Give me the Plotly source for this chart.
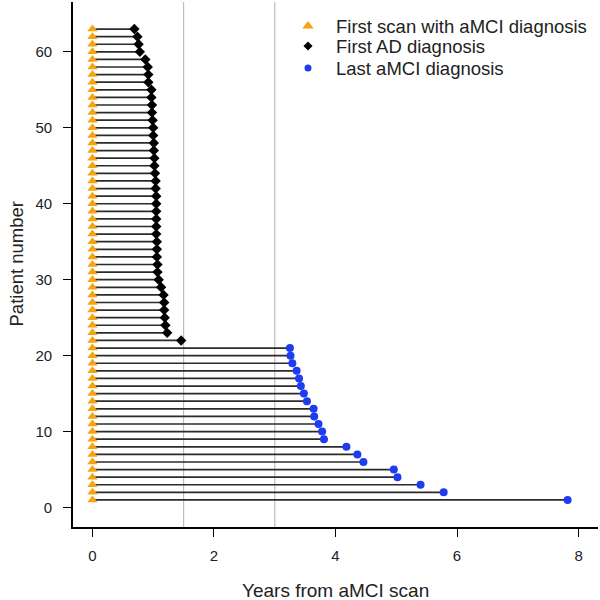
import plotly.graph_objects as go

# ---------------- data ----------------
patients = list(range(1, 64))                      # patient numbers 1..63
scan_years = [0.0] * 63                            # first scan with aMCI diagnosis (all at 0)

# patients 1..21: last aMCI diagnosis (years)
mci_patients = list(range(1, 22))
last_mci = [7.82, 5.78, 5.40, 5.02, 4.96, 4.46, 4.36, 4.18, 3.81, 3.78, 3.72,
            3.65, 3.64, 3.53, 3.48, 3.43, 3.40, 3.36, 3.29, 3.26, 3.25]

# patients 22..63: first AD diagnosis (years)
ad_patients = list(range(22, 64))
first_ad = [1.46, 1.23, 1.20, 1.19, 1.18, 1.18, 1.17, 1.13, 1.09, 1.07, 1.07,
            1.06, 1.06, 1.06, 1.05, 1.05, 1.05, 1.05, 1.05, 1.05, 1.04, 1.04,
            1.03, 1.02, 1.02, 1.01, 1.01, 1.00, 1.00, 0.99, 0.98, 0.98, 0.97,
            0.97, 0.92, 0.92, 0.91, 0.87, 0.78, 0.76, 0.74, 0.69]

series_names = ["First scan with aMCI diagnosis", "First AD diagnosis", "Last aMCI diagnosis"]
ref_lines = [1.5, 3.0]
x_ticks = [0, 2, 4, 6, 8]
y_ticks = [0, 10, 20, 30, 40, 50, 60]

FONT = "Liberation Sans, Arial, Helvetica, sans-serif"
TXT = "#222222"
ORANGE = "#F5A312"
BLUE = "#1E3CF0"

# plot area in pixels (margins)
L, R, T, B = 73, 2, 2, 73
W = H = 600

# ---------------- segments ----------------
end_by_patient = {}
for p, v in zip(mci_patients, last_mci):
    end_by_patient[p] = v
for p, v in zip(ad_patients, first_ad):
    end_by_patient[p] = v

seg_x, seg_y = [], []
for p, s in zip(patients, scan_years):
    seg_x += [s, end_by_patient[p], None]
    seg_y += [p, p, None]

fig = go.Figure()

for rx in ref_lines:
    fig.add_shape(type="line", x0=rx, x1=rx, xref="x", y0=0, y1=1, yref="paper",
                  line=dict(color="#bdbdbd", width=1.2), layer="below")

fig.add_trace(go.Scatter(x=seg_x, y=seg_y, mode="lines",
                         line=dict(color="#2b2b2b", width=1.7),
                         showlegend=False, hoverinfo="skip"))

fig.add_trace(go.Scatter(x=scan_years, y=patients, mode="markers", name=series_names[0],
                         showlegend=False,
                         marker=dict(symbol="triangle-up", size=9, color=ORANGE)))
fig.add_trace(go.Scatter(x=first_ad, y=ad_patients, mode="markers", name=series_names[1],
                         showlegend=False,
                         marker=dict(symbol="diamond", size=8, color="#000000")))
fig.add_trace(go.Scatter(x=last_mci, y=mci_patients, mode="markers", name=series_names[2],
                         showlegend=False,
                         marker=dict(symbol="circle", size=8, color=BLUE)))

# ---------------- legend (key drawn in a pixel-space overlay axis) ----------------
leg_sym_x = 308
leg_txt_x = 334
leg_rows = [26, 46, 68]
leg_symbols = ["triangle-up", "diamond", "circle"]
leg_sizes = [10, 7, 7]
leg_colors = [ORANGE, "#000000", BLUE]
for sym, sz, col, ry in zip(leg_symbols, leg_sizes, leg_colors, leg_rows):
    fig.add_trace(go.Scatter(x=[leg_sym_x], y=[ry], mode="markers",
                             xaxis="x2", yaxis="y2", showlegend=False, hoverinfo="skip",
                             marker=dict(symbol=sym, size=sz, color=col,
                                         line=dict(width=0))))
for name, ry in zip(series_names, leg_rows):
    fig.add_annotation(text=name, xref="x2", yref="y2", x=leg_txt_x, y=ry,
                       xanchor="left", yanchor="middle", showarrow=False,
                       font=dict(family=FONT, size=18.5, color=TXT))

axis_common = dict(showgrid=False, zeroline=False, showline=True, linecolor="#000000",
                   linewidth=1.6, ticks="outside", ticklen=8, tickwidth=1.4,
                   tickcolor="#000000", tickfont=dict(family=FONT, size=15, color=TXT))

fig.update_xaxes(range=[-0.32, 8.32], tickvals=x_ticks, ticktext=[str(t) for t in x_ticks],
                 ticklabelstandoff=6, **axis_common)
fig.update_yaxes(range=[-2.56, 66.56], tickvals=y_ticks, ticktext=[str(t) for t in y_ticks],
                 ticklabelstandoff=8, **axis_common)

fig.add_annotation(text="Years from aMCI scan", xref="paper", yref="paper",
                   x=0.5, y=0, yanchor="middle", yshift=-63, showarrow=False,
                   font=dict(family=FONT, size=19, color=TXT))
fig.add_annotation(text="Patient number", xref="paper", yref="paper",
                   x=0, y=0.5, xanchor="center", xshift=-57, textangle=-90, showarrow=False,
                   font=dict(family=FONT, size=18.5, color=TXT))

fig.update_layout(
    width=W, height=H,
    margin=dict(l=L, r=R, t=T, b=B),
    plot_bgcolor="white", paper_bgcolor="white",
    xaxis2=dict(overlaying="x", range=[L, W - R], visible=False, fixedrange=True),
    yaxis2=dict(overlaying="y", range=[H - B, T], visible=False, fixedrange=True),
    showlegend=False,
)

fig.write_html("out.html", config={"displayModeBar": False},
               post_script="document.body.style.margin='0';document.body.style.padding='0';")
